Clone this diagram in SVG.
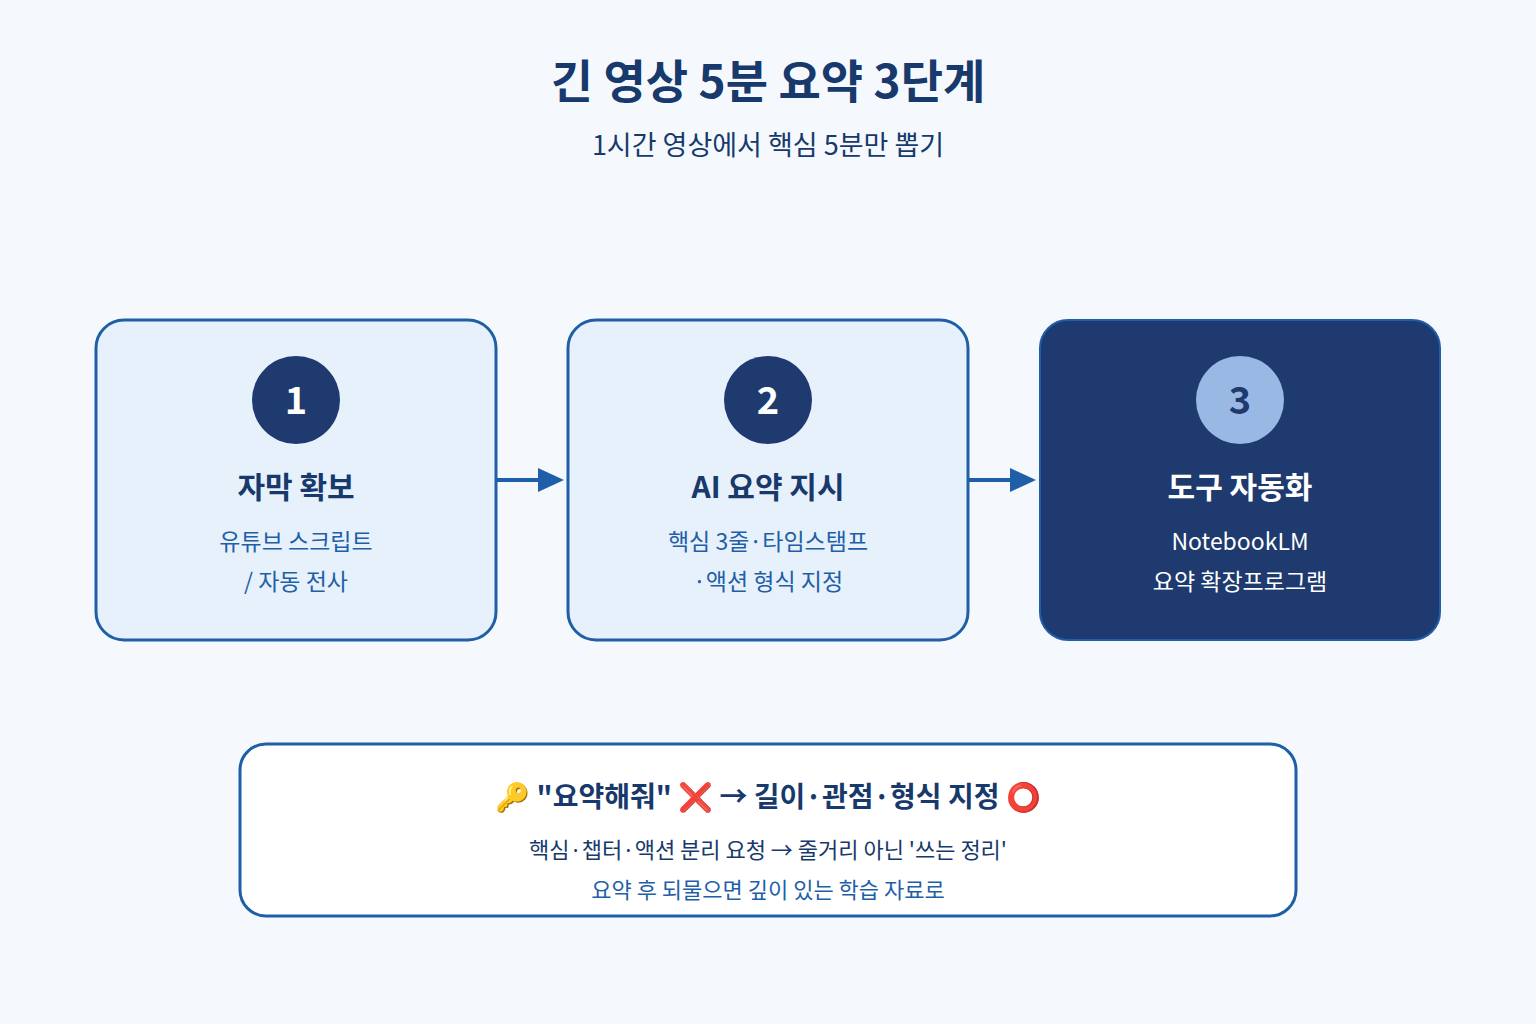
<svg xmlns="http://www.w3.org/2000/svg" width="1536" height="1024" viewBox="0 0 1536 1024">
<defs>
<style>
text{font-family:"Noto Sans CJK KR","Noto Sans",sans-serif;text-anchor:middle}
.box{fill:#e7f1fb;stroke:#1f5fa8;stroke-width:3}
.num{fill:#fff;font-size:38px;font-weight:700}
.t{fill:#17396b;font-size:30px;font-weight:700}
.s{fill:#1f5fa8;font-size:23px}
.c{stroke:#1f5fa8;stroke-width:4;fill:none}
</style>
<marker id="ar" markerWidth="8" markerHeight="8" refX="6" refY="4" orient="auto" markerUnits="userSpaceOnUse" viewBox="0 0 8 8"><path d="M0,0L8,4L0,8z" fill="#1f5fa8"/></marker>
</defs>
<rect width="1536" height="1024" fill="#f5f9fe"/>
<text x="768" y="98" font-size="46" font-weight="700" fill="#17396b">긴 영상 5분 요약 3단계</text>
<text x="768" y="155" font-size="27" fill="#17396b">1시간 영상에서 핵심 5분만 뽑기</text>
<g id="connectors">
<line class="c" x1="497" y1="480" x2="540" y2="480"/><path d="M538,468L564,480L538,492z" fill="#1f5fa8"/>
<line class="c" x1="969" y1="480" x2="1012" y2="480"/><path d="M1010,468L1036,480L1010,492z" fill="#1f5fa8"/>
</g>
<g id="n1">
<rect class="box" x="96" y="320" width="400" height="320" rx="28"/>
<circle cx="296" cy="400" r="44" fill="#1e3a6e"/>
<text class="num" x="296" y="414">1</text>
<text class="t" x="296" y="498">자막 확보</text>
<text class="s" x="296" y="550">유튜브 스크립트</text>
<text class="s" x="296" y="590">/ 자동 전사</text>
</g>
<g id="n2">
<rect class="box" x="568" y="320" width="400" height="320" rx="28"/>
<circle cx="768" cy="400" r="44" fill="#1e3a6e"/>
<text class="num" x="768" y="414">2</text>
<text class="t" x="768" y="498">AI 요약 지시</text>
<text class="s" x="768" y="550">핵심 3줄·타임스탬프</text>
<text class="s" x="768" y="590">·액션 형식 지정</text>
</g>
<g id="n3">
<rect x="1040" y="320" width="400" height="320" rx="28" fill="#1e3a6e" stroke="#1f5fa8" stroke-width="2"/>
<circle cx="1240" cy="400" r="44" fill="#9ab8e4"/>
<text class="num" x="1240" y="414" fill="#1e3a6e" style="fill:#1e3a6e">3</text>
<text class="t" x="1240" y="498" style="fill:#fff">도구 자동화</text>
<text class="s" x="1240" y="550" style="fill:#fff">NotebookLM</text>
<text class="s" x="1240" y="590" style="fill:#fff">요약 확장프로그램</text>
</g>
<g id="note">
<rect x="240" y="744" width="1056" height="172" rx="26" fill="#fff" stroke="#1f5fa8" stroke-width="3"/>
<text x="768" y="807" font-size="28" font-weight="700" fill="#17396b">🔑 "요약해줘" ❌ → 길이·관점·형식 지정 ⭕</text>
<text x="768" y="858" font-size="22" fill="#17396b">핵심·챕터·액션 분리 요청 → 줄거리 아닌 '쓰는 정리'</text>
<text x="768" y="898" font-size="22" fill="#1f5fa8">요약 후 되물으면 깊이 있는 학습 자료로</text>
</g>
</svg>
